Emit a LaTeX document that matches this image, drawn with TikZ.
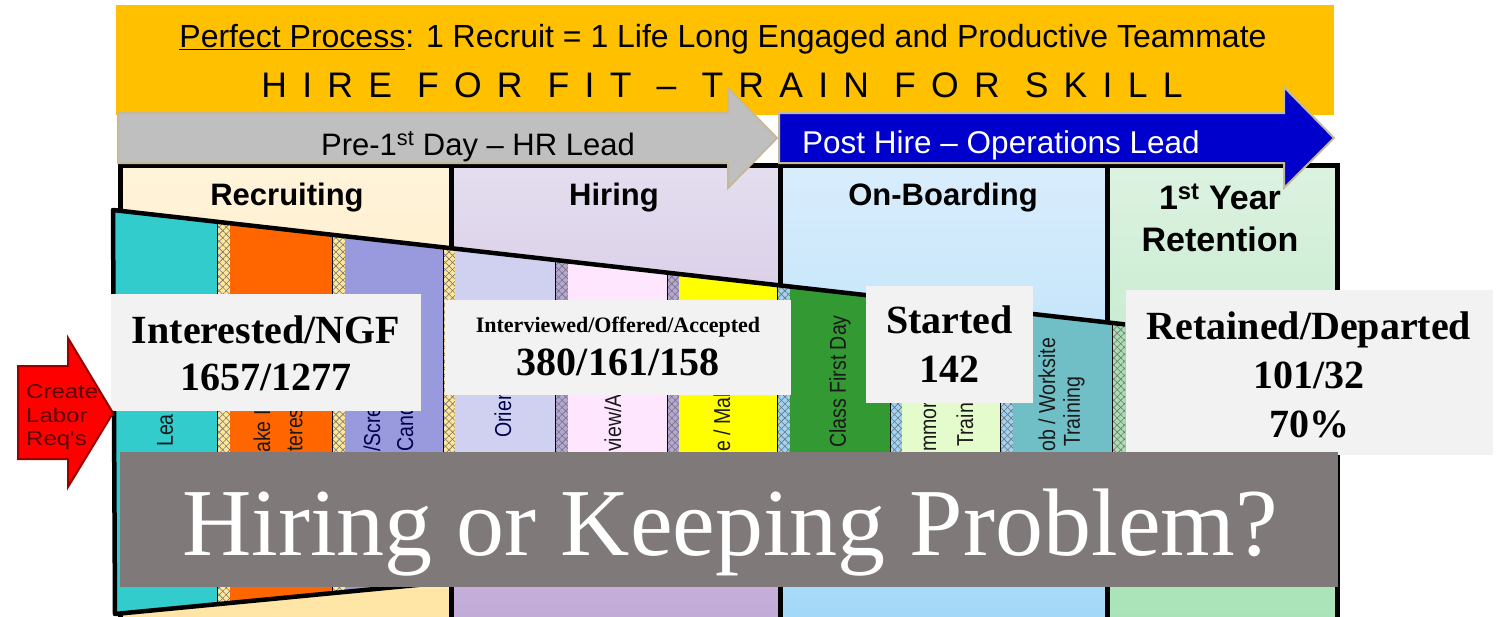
\documentclass[tikz,border=0pt]{standalone}
\usepackage{fontspec}
\setmainfont{Liberation Serif}
\newfontfamily\arial{Liberation Sans}
\newfontfamily\arialsp[LetterSpace=43]{Liberation Sans}
\usetikzlibrary{patterns,patterns.meta}
\definecolor{ybanner}{HTML}{FFC000}
\definecolor{garrow}{HTML}{BFBFBF}
\definecolor{tanb}{HTML}{C4B99D}
\definecolor{barrow}{HTML}{0000CC}
\definecolor{recT}{HTML}{FFF3DA}\definecolor{recB}{HTML}{FFE4A0}
\definecolor{hirT}{HTML}{E4DEEF}\definecolor{hirB}{HTML}{C0A6D6}
\definecolor{onbT}{HTML}{D9EDFC}\definecolor{onbB}{HTML}{9FD6F8}
\definecolor{retT}{HTML}{DDF2E1}\definecolor{retB}{HTML}{A4E2B3}
\definecolor{sA}{HTML}{33CCCC}\definecolor{sB}{HTML}{FF6600}
\definecolor{sC}{HTML}{9999DD}\definecolor{sD}{HTML}{D0D0F0}
\definecolor{sE}{HTML}{FFE6FF}\definecolor{sF}{HTML}{FFFF00}
\definecolor{sG}{HTML}{339933}\definecolor{sH}{HTML}{E4FCCB}
\definecolor{sI}{HTML}{70BEC6}
\definecolor{hR}{HTML}{FFE699}\definecolor{hH}{HTML}{B4A7D6}
\definecolor{hO}{HTML}{9DD3F5}\definecolor{hT}{HTML}{A9DFB0}
\definecolor{boxgrey}{HTML}{F2F2F2}
\definecolor{bannergrey}{HTML}{7F7979}
\definecolor{darkred}{HTML}{990000}
\definecolor{createtxt}{HTML}{5A0000}
\newcommand{\hatchstrip}[3]{%
  \fill[#3] (#1,200) rectangle (#2,640);
  \fill[pattern={Lines[angle=45,distance=5pt,line width=0.6pt]},pattern color=black!55] (#1,200) rectangle (#2,640);
  \fill[pattern={Lines[angle=-45,distance=5pt,line width=0.6pt]},pattern color=black!55] (#1,200) rectangle (#2,640);
  \draw[line width=1pt] (#1,200) -- (#1,640) (#2,200) -- (#2,640);}
\newcommand{\rl}[1]{\scalebox{0.85}[1]{#1}}
\begin{document}
\begin{tikzpicture}[x=1pt,y=-1pt,
  hdr/.style={anchor=base, inner sep=0pt, font=\arial\bfseries\fontsize{31}{36}\selectfont},
  num/.style={anchor=base, inner sep=0pt, font=\bfseries\fontsize{40}{46}\selectfont},
  rot/.style={rotate=90, anchor=west, inner sep=0pt, font=\arial\fontsize{23}{26}\selectfont, text=black!90},
  statbox/.style={fill=boxgrey, draw=none, inner sep=0pt, anchor=north west},
  arrowshape/.style={draw=tanb, line width=2pt},
  redtxt/.style={anchor=base west, inner sep=0pt, font=\arial\fontsize{20}{24}\selectfont, text=createtxt},
]
\clip (0,0) rectangle (1499,616);
% columns
\path[top color=recT, bottom color=recB] (120,165) rectangle (451,660);
\path[top color=hirT, bottom color=hirB] (451,165) rectangle (780,660);
\path[top color=onbT, bottom color=onbB] (780,165) rectangle (1107,660);
\path[top color=retT, bottom color=retB] (1107,165) rectangle (1337,660);
\draw[line width=5pt] (120,165) rectangle (1337,660);
\draw[line width=5pt] (451,165) -- (451,660) (780,165) -- (780,660) (1107,165) -- (1107,660);
\node[hdr] (hrec) at (287,205) {Recruiting};
\node[hdr] (hhir) at (614,205) {Hiring};
\node[hdr] (honb) at (943,205) {On-Boarding};
\node[hdr, font=\arial\bfseries\fontsize{34}{40}\selectfont] (hret1) at (1220,209) {1\textsuperscript{st} Year};
\node[hdr, font=\arial\bfseries\fontsize{34}{40}\selectfont] (hret2) at (1220,251) {Retention};
% funnel
\begin{scope}
\clip (113,210) -- (1125,324.4) -- (1125,517) -- (115,614) -- cycle;
\fill[sA] (110,200) rectangle (217,640);
\hatchstrip{217}{230}{hR}
\fill[sB] (230,200) rectangle (332,640);
\hatchstrip{332}{345}{hR}
\fill[sC] (345,200) rectangle (443,640);
\hatchstrip{443}{455}{hR}
\fill[sD] (455,200) rectangle (555,640);
\hatchstrip{555}{568}{hH}
\fill[sE] (568,200) rectangle (667,640);
\hatchstrip{667}{679}{hH}
\fill[sF] (679,200) rectangle (777,640);
\hatchstrip{777}{790}{hO}
\fill[sG] (790,200) rectangle (890,640);
\hatchstrip{890}{902}{hO}
\fill[sH] (902,200) rectangle (1000,640);
\hatchstrip{1000}{1013}{hO}
\fill[sI] (1013,200) rectangle (1112,640);
\hatchstrip{1112}{1125}{hT}
\end{scope}
\draw[line width=4.5pt, line join=round] (1125,324.4) -- (113,210) -- (115,614) -- (1125,517);
% strip labels
\node[rot] (l1) at (165,447) {\rl{Lea}};
\node[rot] (l2a) at (262,453) {\rl{ake I}};
\node[rot] (l2b) at (295,452) {\rl{teres}};
\node[rot, text=black!70!blue] (l3a) at (372,452) {\rl{/Scre}};
\node[rot, text=black!70!blue] (l3b) at (405,452) {\rl{Candi}};
\node[rot, text=black!70!blue] (l4) at (503,438) {\rl{Orien}};
\node[rot] (l5) at (613,452) {\rl{view/As}};
\node[rot] (l6) at (722,452) {\rl{e / Mak}};
\node[rot] (l7) at (840,448) {\rl{Class First Day}};
\node[rot] (l8a) at (930,452) {\rl{mmor}};
\node[rot] (l8b) at (965,447) {\rl{Train}};
\node[rot] (l9a) at (1047,452) {\rl{ob / Worksite}};
\node[rot] (l9b) at (1074,447) {\rl{Training}};
% yellow banner
\node[fill=ybanner, inner sep=0pt, anchor=north west, minimum width=1218pt, minimum height=110pt] (banner) at (116,5) {};
\node[anchor=base, inner sep=0pt, font=\arial\fontsize{32}{36}\selectfont] (pp) at (723,47) {\underline{Perfect Process}: 1 Recruit = 1 Life Long Engaged and Productive Teammate};
\node[anchor=base, inner sep=0pt, font=\arialsp\fontsize{35.5}{40}\selectfont] (hff) at (722,97) {HIRE FOR FIT – TRAIN FOR SKILL};
% arrows
\draw[arrowshape, fill=garrow] (118,113) -- (728,113) -- (728,88) -- (777,138) -- (728,188) -- (728,163) -- (118,163) -- cycle;
\node[anchor=base, inner sep=0pt, font=\arial\fontsize{31}{36}\selectfont] (pre) at (478,155) {Pre-1\textsuperscript{st} Day – HR Lead};
\draw[arrowshape, fill=barrow] (779,113) -- (1284,113) -- (1284,87) -- (1334,138) -- (1284,188) -- (1284,163) -- (779,163) -- cycle;
\node[anchor=base west, inner sep=0pt, text=white, font=\arial\fontsize{31.5}{36}\selectfont] (post) at (802,153) {Post Hire – Operations Lead};
% stat boxes
\node[statbox, minimum width=310pt, minimum height=117pt] (bint) at (111,294) {};
\node[num] (tint1) at (266,343) {Interested/NGF};
\node[num] (tint2) at (266,390) {1657/1277};
\node[statbox, minimum width=346pt, minimum height=95pt] (bhir) at (445,300) {};
\node[num, font=\bfseries\fontsize{22}{26}\selectfont] (thir1) at (618,332) {Interviewed/Offered/Accepted};
\node[num] (thir2) at (618,375) {380/161/158};
\node[statbox, minimum width=167pt, minimum height=117pt] (bsta) at (866,286) {};
\node[num] (tsta1) at (949.5,333) {Started};
\node[num] (tsta2) at (949.5,382) {142};
\node[statbox, minimum width=367pt, minimum height=165pt] (bret) at (1126,290) {};
\node[num] (tret1) at (1309,339) {Retained/Departed};
\node[num] (tret2) at (1309,388) {101/32};
\node[num] (tret3) at (1309,437) {70\%};
% grey banner
\node[fill=bannergrey, inner sep=0pt, anchor=north west, minimum width=1218pt, minimum height=135pt] (prob) at (120,452) {};
\node[anchor=base, inner sep=0pt, text=white, font=\fontsize{96}{100}\selectfont] (probtxt) at (730,555) {Hiring or Keeping Problem?};
% red arrow
\draw[fill=red, draw=darkred, line width=2pt, line join=miter] (18,366) -- (68,366) -- (68,338) -- (113,413) -- (68,487) -- (68,459) -- (18,459) -- cycle;
\node[redtxt] (c1) at (26,398) {\scalebox{1.2}[1]{Create}};
\node[redtxt] (c2) at (26,422) {\scalebox{1.2}[1]{Labor}};
\node[redtxt] (c3) at (26,445) {\scalebox{1.2}[1]{Req's}};
\end{tikzpicture}
\end{document}
